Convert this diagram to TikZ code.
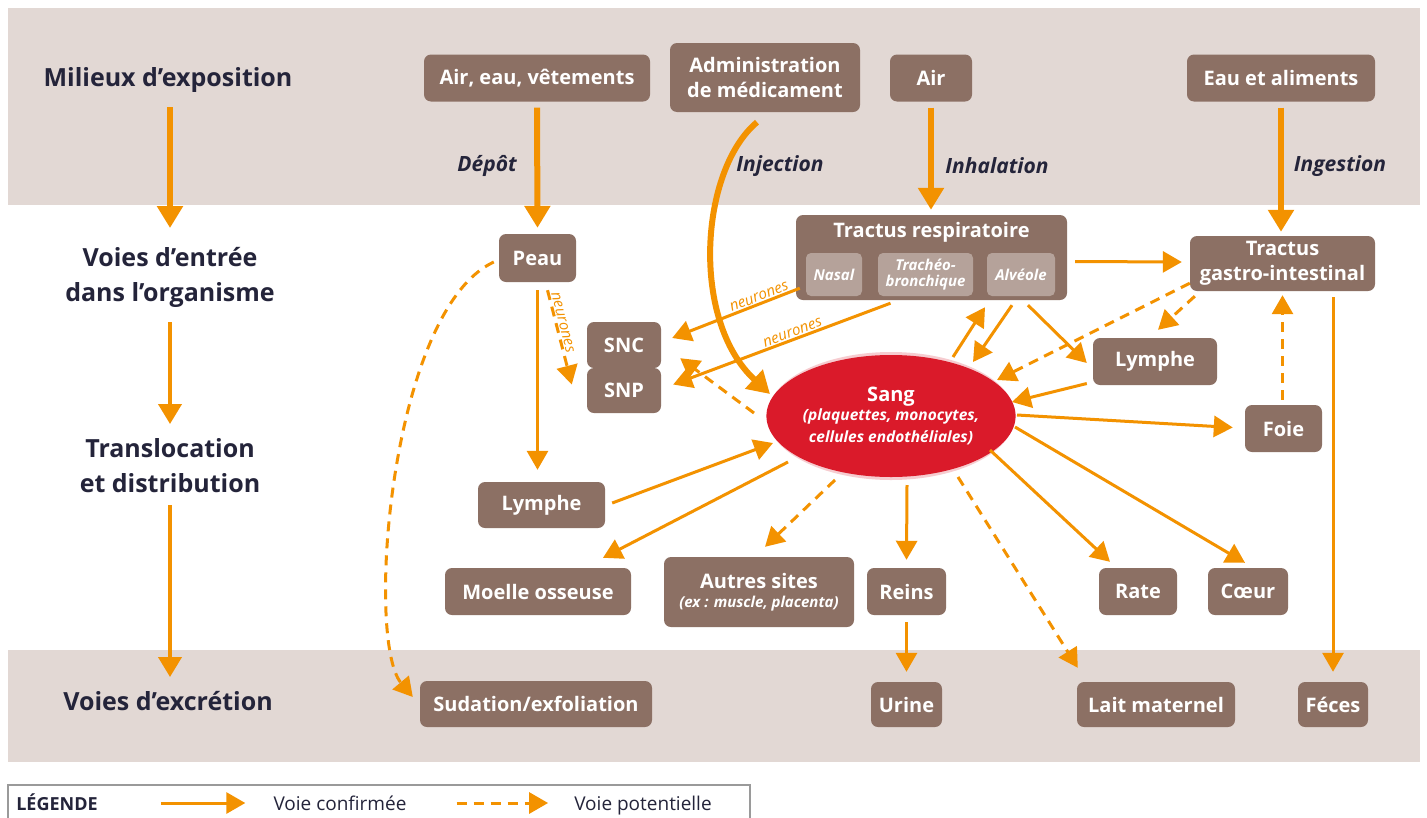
\documentclass[tikz,border=0pt]{standalone}
\usepackage{fontspec}
\setmainfont{Open Sans}
\usetikzlibrary{shapes.geometric,arrows.meta,calc}
\definecolor{band}{HTML}{E2D8D4}
\definecolor{boxc}{HTML}{8C7064}
\definecolor{subc}{HTML}{B5A29A}
\definecolor{org}{HTML}{F39200}
\definecolor{sangred}{HTML}{DA1A2A}
\definecolor{darkt}{HTML}{24243A}
\definecolor{legc}{HTML}{9A9A9A}
\begin{document}
\begin{tikzpicture}[x=1pt,y=-1pt,
  bx/.style={rounded corners=7pt, fill=boxc, text=white, font=\bfseries\fontsize{20}{25}\selectfont, align=center, inner sep=0pt},
  subbx/.style={rounded corners=5pt, fill=subc, text=white, font=\bfseries\itshape\fontsize{15}{16}\selectfont, align=center, inner sep=0pt, minimum height=43},
  lab/.style={text=darkt, font=\bfseries\fontsize{25}{35}\selectfont, align=center},
  way/.style={text=darkt, font=\bfseries\itshape\fontsize{21}{23}\selectfont},
  neur/.style={text=org, font=\itshape\fontsize{15}{15}\selectfont, inner sep=1pt},
  arr/.style={draw=org, line width=3pt, -{Triangle[length=19pt,width=21pt]}},
  darr/.style={arr, dash pattern=on 10pt off 7pt},
  tarr/.style={draw=org, line width=6pt, -{Triangle[length=22pt,width=25pt]}},
  marr/.style={draw=org, line width=4pt, -{Triangle[length=20pt,width=23pt]}},
  legt/.style={text=darkt, font=\fontsize{19}{21}\selectfont, anchor=base, inner sep=0pt}
]
\useasboundingbox (0,0) rectangle (1427,817);
\fill[white] (0,0) rectangle (1427,817);
\fill[band] (8,8) rectangle (1420,205);
\fill[band] (8,650) rectangle (1420,762);
\draw[legc, line width=1.5pt] (8,820) -- (8,785) -- (750,785) -- (750,820);

% left column
\node[lab] (milieux) at (168,80) {Milieux d’exposition};
\node[lab] (voies) at (170,277) {Voies d’entrée\\dans l’organisme};
\node[lab] (transl) at (170,466) {Translocation\\et distribution};
\node[lab] (excr) at (168,701) {Voies d’excrétion};
\draw[tarr] ($(milieux.center)+(2,27)$) -- ($(voies.center)+(0,-49)$);
\draw[marr] ($(voies.center)+(0,45)$) -- ($(transl.center)+(0,-42)$);
\draw[marr] ($(transl.center)+(0,39)$) -- ($(excr.center)+(2,-24)$);

% top boxes
\node[bx, minimum width=226, minimum height=47] (aev) at (537,78) {Air, eau, vêtements};
\node[bx, minimum width=190, minimum height=69] (adm) at (765,77.5) {Administration\\de médicament};
\node[bx, minimum width=82, minimum height=47] (air) at (931,78) {Air};
\node[bx, minimum width=188, minimum height=47] (eau) at (1281,78) {Eau et aliments};

\node[way] (depot) at (487,166) {Dépôt};
\node[way] (inj) at (780,166) {Injection};
\node[way] (inh) at (997,166) {Inhalation};
\node[way] (ing) at (1340,166) {Ingestion};

% middle boxes
\node[bx, minimum width=77, minimum height=48] (peau) at (537.5,258) {Peau};
\node[bx, minimum width=271, minimum height=85] (resp) at (931.5,257.5) {};
\node[text=white, font=\bfseries\fontsize{20}{22}\selectfont] (resptitle) at (931.5,232) {Tractus respiratoire};
\node[subbx, minimum width=56] (nasal) at (834,274.5) {Nasal};
\node[subbx, minimum width=95] (trach) at (925.5,274.5) {Trachéo-\\bronchique};
\node[subbx, minimum width=68] (alv) at (1021,274.5) {Alvéole};
\node[bx, minimum width=185, minimum height=55] (gi) at (1282.5,263.5) {Tractus\\gastro-intestinal};
\node[bx, minimum width=74, minimum height=46] (snc) at (624,345) {SNC};
\node[bx, minimum width=74, minimum height=45] (snp) at (624,390.5) {SNP};
\node[bx, minimum width=124, minimum height=47] (lymr) at (1155,361.5) {Lymphe};
\node[bx, minimum width=77, minimum height=47] (foie) at (1283.5,428.5) {Foie};
\node[bx, minimum width=127, minimum height=46] (lyml) at (541.5,505) {Lymphe};
\node[bx, minimum width=186, minimum height=47] (moelle) at (538,591.5) {Moelle osseuse};
\node[bx, minimum width=190, minimum height=70] (autres) at (759,592) {Autres sites\\[-6pt]\itshape\fontsize{15}{16}\selectfont (ex : muscle, placenta)};
\node[bx, minimum width=79, minimum height=47] (reins) at (906.5,591.5) {Reins};
\node[bx, minimum width=78, minimum height=47] (rate) at (1138,591.5) {Rate};
\node[bx, minimum width=80, minimum height=47] (coeur) at (1248,591.5) {Cœur};

% bottom boxes
\node[bx, minimum width=232, minimum height=46] (sud) at (536,704) {Sudation/exfoliation};
\node[bx, minimum width=71, minimum height=45] (urine) at (906.5,704.5) {Urine};
\node[bx, minimum width=158, minimum height=45] (lait) at (1156,704.5) {Lait maternel};
\node[bx, minimum width=70, minimum height=45] (feces) at (1333,704.5) {Féces};

% Sang
\coordinate (sc) at (891,416);
\fill[sangred, opacity=0.22] (sc) ellipse [x radius=124, y radius=64];
\node[ellipse, fill=sangred, minimum width=242, minimum height=122, inner sep=0pt, text=white, align=center,
  font=\bfseries\fontsize{20}{22}\selectfont] (sang) at (sc)
  {Sang\\[-3pt]\itshape\fontsize{15.5}{17}\selectfont (plaquettes, monocytes,\\\bfseries\itshape\fontsize{15.5}{17}\selectfont cellules endothéliales)};

% connectors
\draw[tarr] ($(aev.south)+(0,6)$) -- ($(peau.north)+(0,-6)$);
\draw[tarr] ($(air.south)+(0,6)$) -- ($(air.south|-resp.north)+(0,-5)$);
\draw[tarr] ($(eau.south)+(0,6)$) -- ($(eau.south|-gi.north)+(0,-4)$);
\draw[tarr] ($(adm.south)+(-8,10)$) .. controls (700,170) and (690,320) .. ($(sang.center)+(-121,-22)$);

\draw[arr] ($(resp.east)+(8,4)$) -- ($(gi.west)+(-8,-1.5)$);
\draw[arr] ($(peau.south)+(0,8)$) -- ($(peau.south|-lyml.north)+(0,-12)$);
\draw[darr] ($(peau.south)+(10,8)$) -- node[neur, sloped, above, pos=0.36] {neurones} ($(snp.west)+(-15,-6)$);
\draw[darr] ($(peau.west)+(-5,4)$) .. controls (390,310) and (365,640) .. ($(sud.west)+(-7,-7)$);
\draw[arr] ($(resp.south west)+(4,-12)$) -- node[neur, sloped, above, pos=0.3] {neurones} ($(snc.east)+(11,-7)$);
\draw[arr] ($(resp.south)+(-41,3)$) -- node[neur, sloped, above, pos=0.44] {neurones} ($(snp.east)+(12,-6)$);
\draw[darr] ($(sang.center)+(-137,-3)$) -- ($(snc.south east)+(19,-10)$);

\draw[arr] ($(sang.center)+(62,-59)$) -- ($(resp.south)+(53.5,7)$);
\draw[arr] ($(resp.south)+(80.5,5)$) -- ($(sang.center)+(82,-54)$);
\draw[arr] ($(resp.south)+(96.5,5)$) -- ($(lymr.west)+(-6,1.5)$);
\draw[darr] ($(gi.south west)+(0,-8)$) -- ($(sang.center)+(106,-36)$);
\draw[darr] ($(gi.south west)+(5,5)$) -- ($(lymr.north)+(3,-8)$);
\draw[arr] ($(lymr.west)+(-6,22)$) -- ($(sang.center)+(121,-14)$);
\draw[arr] ($(sang.center)+(126,-1)$) -- ($(foie.west)+(-12,-1)$);
\draw[darr] ($(foie.north)+(-1,-5)$) -- ($(foie.north|-gi.south)+(-1,4)$);
\draw[arr] ($(feces.north|-gi.south)+(0,6)$) -- ($(feces.north)+(0,-10)$);

\draw[arr] ($(lyml.east)+(7,-2)$) -- ($(sang.center)+(-118,27)$);
\draw[arr] ($(sang.center)+(-103,46)$) -- ($(moelle.north)+(65,-10)$);
\draw[darr] ($(sang.center)+(-56,64)$) -- ($(autres.north)+(6,-10)$);
\draw[arr] ($(sang.center)+(16,69)$) -- ($(reins.north)+(0,-8)$);
\draw[darr] ($(sang.center)+(67,61)$) -- ($(lait.north west)+(1,-14)$);
\draw[arr] ($(sang.center)+(99,34)$) -- ($(rate.north)+(-28,-6)$);
\draw[arr] ($(sang.center)+(124,11)$) -- ($(coeur.north)+(-3,-5)$);
\draw[arr] ($(reins.south)+(0,7)$) -- ($(urine.north)+(0,-10)$);

% legend
\node[legt, font=\bfseries\fontsize{18}{20}\selectfont] (leg) at (57,810) {LÉGENDE};
\node[legt] (conf) at (340,810) {Voie confirmée};
\node[legt] (pot) at (643,810) {Voie potentielle};
\draw[arr] ($(leg.base east)+(63,-7)$) -- ($(conf.base west)+(-28,-7)$);
\draw[darr] ($(conf.base east)+(50,-7)$) -- ($(pot.base west)+(-26,-7)$);
\end{tikzpicture}
\end{document}
